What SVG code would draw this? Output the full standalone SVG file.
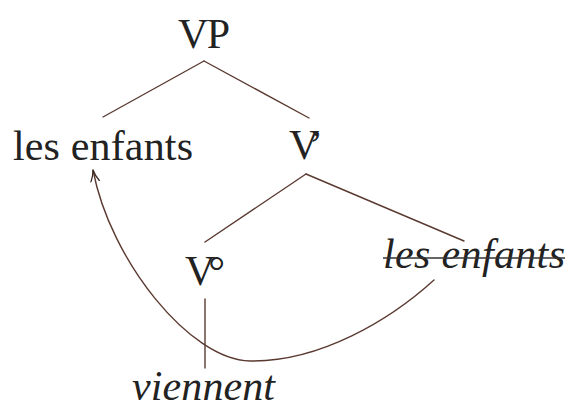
<svg xmlns="http://www.w3.org/2000/svg" width="569" height="409" viewBox="0 0 569 409">
<style>
text{font-family:"Liberation Serif","DejaVu Serif",serif;fill:#222;font-size:42px}
.it{font-style:italic}
.edge{stroke:#5a3a30;stroke-width:1.4;fill:none;stroke-linecap:round}
</style>
<defs>
<marker id="arr" markerWidth="14" markerHeight="12" refX="12" refY="6" orient="auto" markerUnits="userSpaceOnUse">
<path d="M0,1.5 Q6,5 12,6 Q6,7 0,10.5" fill="none" stroke="#3a2a24" stroke-width="1.3"/>
</marker>
</defs>
<g id="connectors">
<line class="edge" x1="204" y1="61" x2="103" y2="117"/>
<line class="edge" x1="204" y1="61" x2="309" y2="118"/>
<line class="edge" x1="306" y1="174" x2="205" y2="242"/>
<line class="edge" x1="306" y1="174" x2="464" y2="241"/>
<line class="edge" x1="205" y1="299" x2="205" y2="368"/>
<path class="edge" d="M434,280 C390,320 320,362 250,361 C190,360 110,260 93,170" marker-end="url(#arr)"/>
</g>
<g id="VP"><text x="178" y="48" textLength="52">VP</text></g>
<g id="les-enfants"><text x="13" y="160" textLength="180">les enfants</text></g>
<g id="Vbar"><text x="289" y="159" textLength="34">V’</text></g>
<g id="V0"><text x="185" y="285" textLength="40">V°</text></g>
<g id="les-enfants-trace"><text class="it" x="383" y="268" textLength="182">les enfants</text>
<line x1="383" y1="258" x2="565" y2="258" stroke="#333" stroke-width="1.4"/></g>
<g id="viennent"><text class="it" x="132" y="400" textLength="143">viennent</text></g>
</svg>
